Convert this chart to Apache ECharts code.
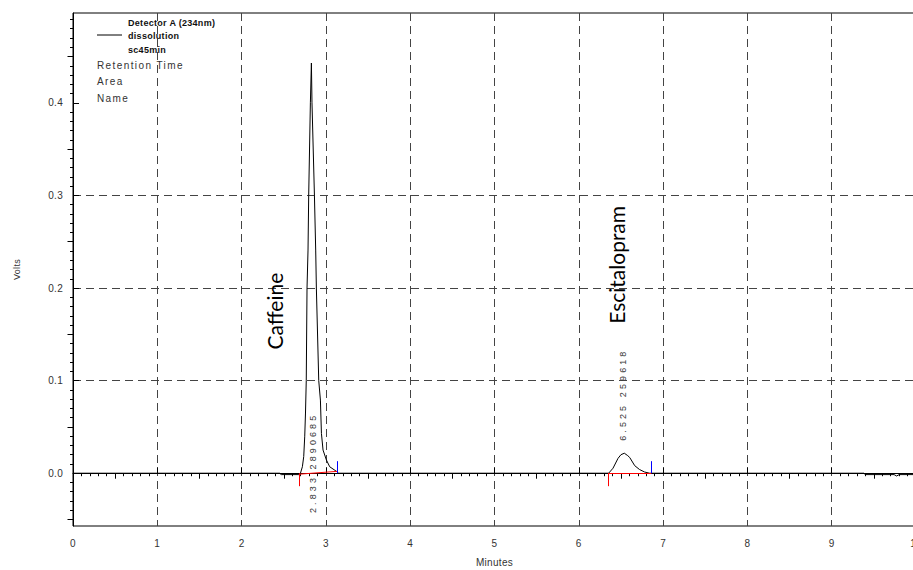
<!DOCTYPE html>
<html>
<head>
<meta charset="utf-8">
<title>Detector A (234nm) - dissolution sc45min</title>
<script src="https://cdn.jsdelivr.net/npm/echarts@6/dist/echarts.min.js"></script>
<style>
  html, body { margin: 0; padding: 0; background: #fff; }
  #chart { width: 913px; height: 570px; }
  /* instrument printout font: widely spaced */
  #chart text[style*="Narrow"], #chart text[font-family*="Narrow"] { letter-spacing: 0.3px; }
  #chart text[style*="Arial Narrow"], #chart text[font-family*="Arial Narrow"] { letter-spacing: 1.4px; }
  #chart text[style*="Nimbus"], #chart text[font-family*="Nimbus"] { letter-spacing: 3.1px; }
</style>
</head>
<body>
<div id="chart"></div>
<script>
// trace (minutes, volts)
const traceTime = [
  0, 2.45, 2.47, 2.68, 2.698, 2.721, 2.737, 2.749, 2.758, 2.767, 2.776, 2.788, 2.796, 2.816,
  2.828, 2.835, 2.864, 2.879, 2.887, 2.915, 2.935, 2.947, 2.966, 3.006, 3.045, 3.125, 3.152,
  6.354, 6.406, 6.465, 6.50, 6.54, 6.58, 6.604, 6.663, 6.72, 6.78, 6.84,
  9.38, 9.40, 9.74, 9.77, 9.80, 10
]
const traceVolts = [
  0, 0, -0.0015, -0.0015, 0, 0.007, 0.018, 0.04, 0.065, 0.10, 0.20, 0.241, 0.30, 0.40,
  0.443, 0.40, 0.30, 0.241, 0.20, 0.10, 0.079, 0.043, 0.025, 0.0143, 0.007, 0.002, 0,
  0, 0.0054, 0.016, 0.020, 0.0216, 0.019, 0.017, 0.0082, 0.004, 0.0013, 0,
  0, -0.0015, -0.0015, -0.003, -0.0015, -0.0015
]

// peak table
const peakNames = ['Caffeine', 'Escitalopram']
const peakTimes = ['2.833', '6.525']
const peakAreas = ['2890685', '259618']
const peakStart = [2.689, 6.346]
const peakEnd = [3.132, 6.861]
const peakStartVolts = [-0.001, 0]
const peakEndVolts = [0.002, 0]

// axes
const xTicks = [0, 1, 2, 3, 4, 5, 6, 7, 8, 9, 10]
const xHalfTicks = [0.5, 1.5, 2.5, 3.5, 4.5, 5.5, 6.5, 7.5, 8.5, 9.5]
const yTicks = [0, 0.1, 0.2, 0.3, 0.4]
const yHalfTicks = [-0.05, 0.05, 0.15, 0.25, 0.35, 0.45]
const yMinorTicks = []
for (let i = -5; i <= 49; i++) {
  if (i % 5 !== 0) yMinorTicks.push(i / 100)
}

const X_MIN = 0
const X_MAX = 10
const Y_MIN = -0.057
const Y_MAX = 0.497

const NARROW = "'Liberation Sans Narrow', 'Liberation Sans'"
const NARROW_WIDE = "'Liberation Sans Narrow', 'Arial Narrow', 'Liberation Sans'"
const NARROW_WIDEST = "'Liberation Sans Narrow', 'Nimbus Sans Narrow', 'Liberation Sans'"

// where the annotations sit, in data units
const nameLabelAt = [[2.393, 0.175], [6.45, 0.225]]
const infoLabelAt = [[2.843, -0.043], [6.52, 0.035]]
const START_TICK = 0.014
const END_TICK = 0.013

const chart = echarts.init(document.getElementById('chart'), null, { renderer: 'svg' })

const traceData = traceTime.map((t, i) => [t, traceVolts[i]])

const markLines = []
peakStart.forEach((t, i) => {
  // integration baseline
  markLines.push([
    { coord: [t, peakStartVolts[i]], lineStyle: { color: '#ff0000', width: 1, type: 'solid' } },
    { coord: [peakEnd[i], peakEndVolts[i]] }
  ])
  // start / end markers
  markLines.push([
    { coord: [t, 0], lineStyle: { color: '#ff0000', width: 1, type: 'solid' } },
    { coord: [t, -START_TICK] }
  ])
  markLines.push([
    { coord: [peakEnd[i], 0], lineStyle: { color: '#0000ff', width: 1, type: 'solid' } },
    { coord: [peakEnd[i], END_TICK] }
  ])
})

const markPoints = []
peakNames.forEach((name, i) => {
  markPoints.push({
    coord: nameLabelAt[i],
    label: {
      show: true,
      formatter: name,
      position: 'inside',
      rotate: 90,
      fontFamily: 'Lato',
      fontSize: 21,
      color: '#000'
    }
  })
  markPoints.push({
    coord: infoLabelAt[i],
    label: {
      show: true,
      formatter: peakTimes[i] + ' ' + peakAreas[i],
      position: 'inside',
      rotate: 90,
      align: 'left',
      verticalAlign: 'middle',
      fontFamily: NARROW_WIDEST,
      fontSize: 9,
      color: '#333'
    }
  })
})

const hiddenAxisParts = {
  axisLine: { show: false },
  axisLabel: { show: false },
  splitLine: { show: false }
}

const option = {
  animation: false,
  backgroundColor: '#fff',
  grid: {
    left: 73,
    top: 13,
    right: -3,
    bottom: 44,
    containLabel: false,
    outerBoundsMode: 'none',
    show: true,
    borderColor: '#000',
    borderWidth: 1,
    backgroundColor: 'transparent'
  },
  xAxis: [
    {
      type: 'value',
      min: X_MIN,
      max: X_MAX,
      interval: 1,
      position: 'bottom',
      name: 'Minutes',
      nameLocation: 'middle',
      nameGap: 31,
      nameTextStyle: { fontFamily: NARROW, fontSize: 10, color: '#333' },
      axisLine: { show: true, lineStyle: { color: '#000', width: 1 } },
      axisTick: { show: true, inside: true, length: 6, customValues: xTicks, lineStyle: { color: '#000' } },
      axisLabel: {
        customValues: xTicks,
        margin: 12,
        fontFamily: NARROW,
        fontSize: 10,
        color: '#333',
        formatter: (v) => String(v)
      },
      splitLine: {
        show: true,
        showMinLine: false,
        showMaxLine: false,
        lineStyle: { color: '#444', width: 1, type: [8, 5] }
      }
    },
    {
      type: 'value',
      min: X_MIN,
      max: X_MAX,
      interval: 0.5,
      position: 'bottom',
      ...hiddenAxisParts,
      axisTick: { show: true, length: 5.5, customValues: xHalfTicks, lineStyle: { color: '#000' } },
      minorTick: { show: true, splitNumber: 5, length: 3, lineStyle: { color: '#000' } }
    }
  ],
  yAxis: [
    {
      type: 'value',
      min: Y_MIN,
      max: Y_MAX,
      position: 'left',
      name: 'Volts',
      nameLocation: 'middle',
      nameGap: 52,
      nameTextStyle: { fontFamily: NARROW, fontSize: 9, color: '#333' },
      axisLine: { show: true, lineStyle: { color: '#000', width: 1 } },
      axisTick: { show: true, inside: true, length: 6, customValues: yTicks, lineStyle: { color: '#000' } },
      axisLabel: {
        customValues: yTicks,
        margin: 10,
        fontFamily: NARROW,
        fontSize: 10,
        color: '#333',
        formatter: (v) => v.toFixed(1)
      },
      splitLine: {
        show: true,
        showMinLine: false,
        showMaxLine: false,
        lineStyle: { color: '#444', width: 1, type: [8, 5] }
      }
    },
    {
      type: 'value',
      min: Y_MIN,
      max: Y_MAX,
      position: 'left',
      ...hiddenAxisParts,
      axisTick: { show: true, length: 5.5, customValues: yHalfTicks, lineStyle: { color: '#000' } }
    },
    {
      type: 'value',
      min: Y_MIN,
      max: Y_MAX,
      position: 'left',
      ...hiddenAxisParts,
      axisTick: { show: true, length: 3, customValues: yMinorTicks, lineStyle: { color: '#000' } }
    }
  ],
  graphic: [
    { type: 'line', shape: { x1: 97, y1: 35, x2: 122, y2: 35 }, style: { stroke: '#000', lineWidth: 1 } },
    { type: 'text', left: 128, top: 18, style: { text: 'Detector A (234nm)', fontFamily: NARROW, fontSize: 9, fontWeight: 'bold', fill: '#111' } },
    { type: 'text', left: 128, top: 31.5, style: { text: 'dissolution', fontFamily: NARROW, fontSize: 9, fontWeight: 'bold', fill: '#111' } },
    { type: 'text', left: 128, top: 45, style: { text: 'sc45min', fontFamily: NARROW, fontSize: 9, fontWeight: 'bold', fill: '#111' } },
    { type: 'text', left: 97, top: 60, style: { text: 'Retention Time', fontFamily: NARROW_WIDE, fontSize: 10, fill: '#333' } },
    { type: 'text', left: 97, top: 76.7, style: { text: 'Area', fontFamily: NARROW_WIDE, fontSize: 10, fill: '#333' } },
    { type: 'text', left: 97, top: 93.3, style: { text: 'Name', fontFamily: NARROW_WIDE, fontSize: 10, fill: '#333' } }
  ],
  series: [
    {
      name: 'Detector A (234nm)',
      type: 'line',
      data: traceData,
      xAxisIndex: 0,
      yAxisIndex: 0,
      showSymbol: false,
      symbol: 'none',
      silent: true,
      z: 3,
      lineStyle: { color: '#000', width: 1 },
      markLine: {
        symbol: 'none',
        silent: true,
        animation: false,
        label: { show: false },
        data: markLines
      },
      markPoint: {
        symbol: 'circle',
        symbolSize: 0,
        silent: true,
        animation: false,
        data: markPoints
      }
    }
  ]
}

chart.setOption(option)
</script>
</body>
</html>
